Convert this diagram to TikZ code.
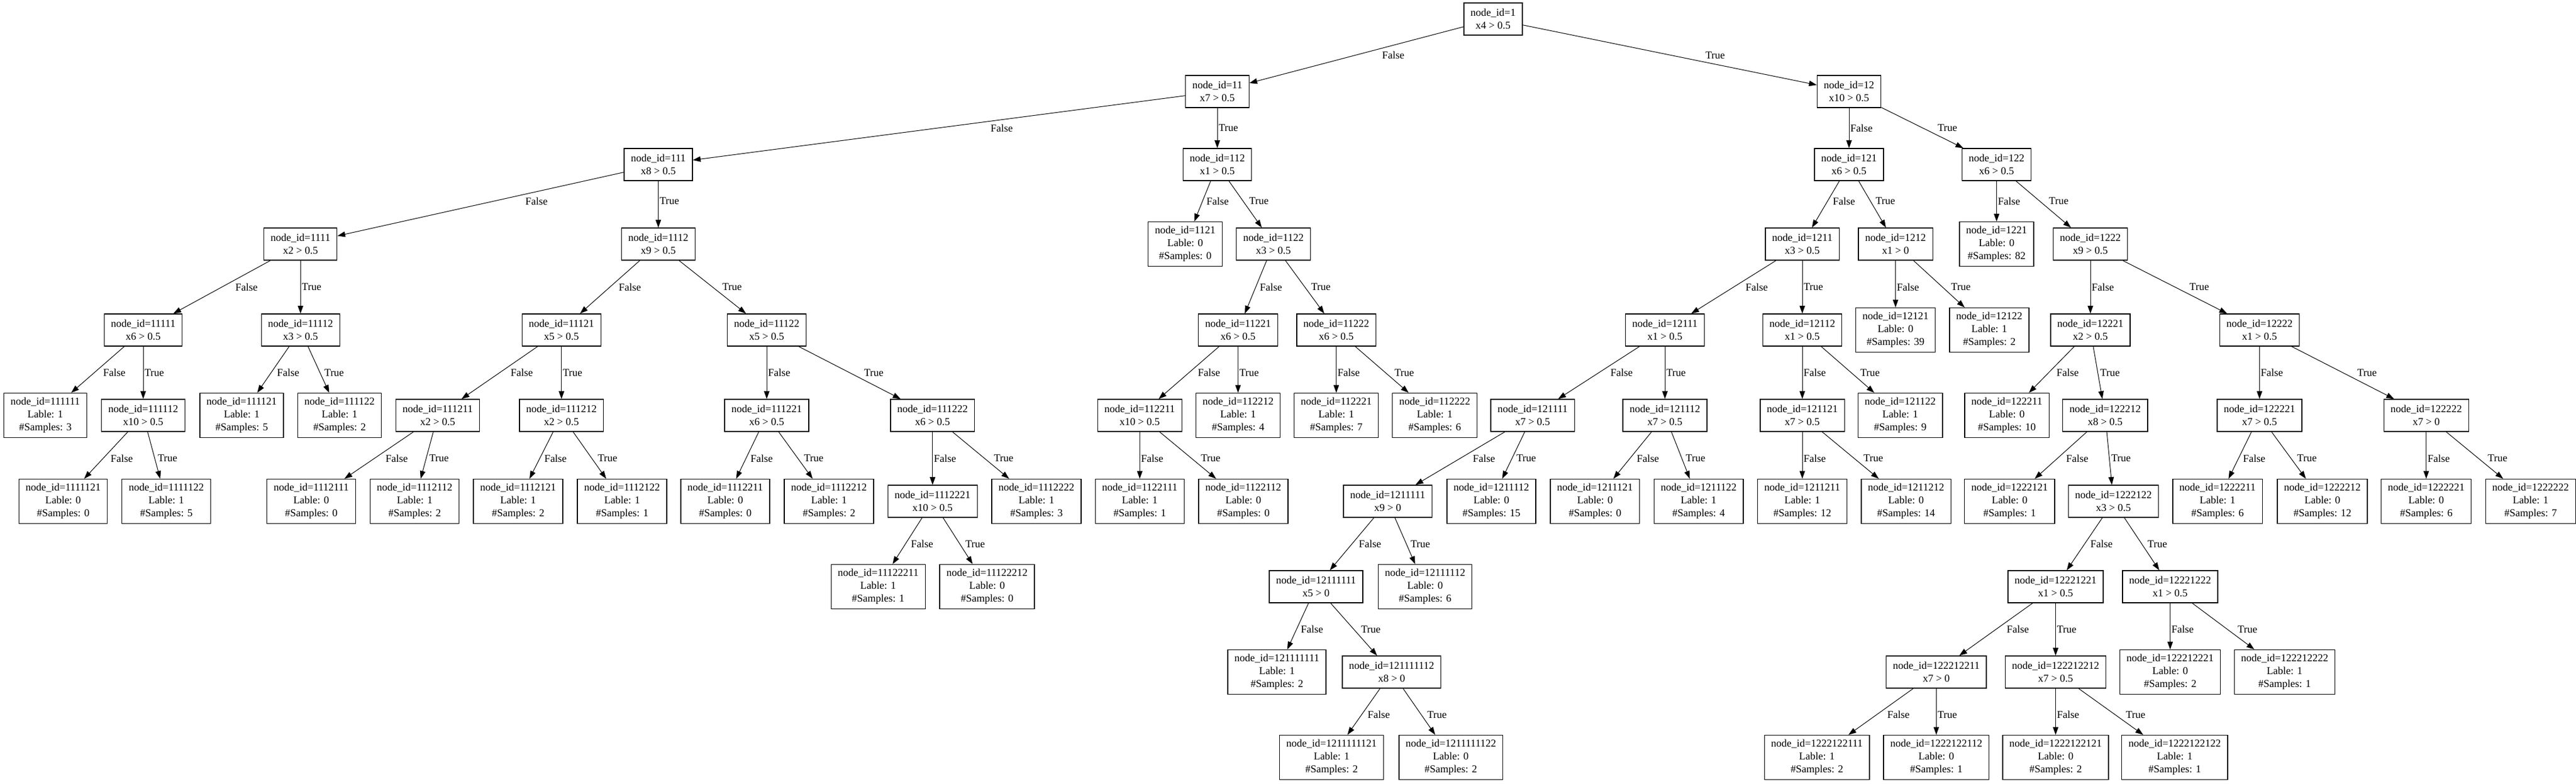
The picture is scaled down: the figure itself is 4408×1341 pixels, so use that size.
\documentclass[tikz,border=0pt]{standalone}
\usepackage{fontspec}
\setmainfont{Liberation Serif}
\usetikzlibrary{arrows.meta}
\tikzset{
  tn/.style={draw=black, line width=1pt, fill=white, align=center, inner xsep=8.6pt, inner ysep=0pt, font=\fontsize{13.5}{16.5}\selectfont},
  inode/.style={tn, minimum height=41.25pt},
  leaf/.style={tn, minimum height=57pt},
  edge/.style={draw=black, line width=0.75pt, -{Triangle[length=10pt,width=7pt]}},
  lbl/.style={font=\fontsize{13.5}{16.5}\selectfont, inner sep=0pt, anchor=west},
}
\newcommand\In[4]{\expandafter\def\csname X#1\endcsname{#2}\expandafter\def\csname Y#1\endcsname{#3}%
  \node[inode] (n#1) at (#2,#3) {node\_id=#1\\#4};}
\newcommand\Lf[5]{\expandafter\def\csname X#1\endcsname{#2}\expandafter\def\csname Y#1\endcsname{#3}%
  \node[leaf] (n#1) at (#2,#3) {node\_id=#1\\Lable: #4\\\#Samples: #5};}
\newcommand\E[4]{%
  \draw[edge] (n#1) -- (n#2);
  \pgfmathsetmacro\sl{(\csname X#2\endcsname-\csname X#1\endcsname)/(\csname Y#2\endcsname-\csname Y#1\endcsname)}%
  \pgfmathsetmacro\lx{\csname X#1\endcsname+(#4-\csname Y#1\endcsname)*\sl+2+11.5*abs(\sl)}%
  \node[lbl] (l#2) at (\lx,#4) {#3};}
\newcommand\EE[4]{\E{#1}{#2}{False}{#4}\E{#1}{#3}{True}{#4}}
\begin{document}
\begin{tikzpicture}[x=0.75pt,y=-0.75pt]
\useasboundingbox (0,0) rectangle (4408,1341);
% rank 0-2
\In{1}{2555}{32.5}{x4 > 0.5}
\In{11}{2083}{156.5}{x7 > 0.5}
\In{12}{3164}{156.5}{x10 > 0.5}
\In{111}{1126.5}{281.5}{x8 > 0.5}
\In{112}{2083}{281.5}{x1 > 0.5}
\In{121}{3164}{281.5}{x6 > 0.5}
\In{122}{3416.5}{281.5}{x6 > 0.5}
% rank 3
\In{1111}{514.2}{417.5}{x2 > 0.5}
\In{1112}{1126.5}{417.5}{x9 > 0.5}
\Lf{1121}{2028}{417.5}{0}{0}
\In{1122}{2179}{417.5}{x3 > 0.5}
\In{1211}{3084}{417.5}{x3 > 0.5}
\In{1212}{3243.6}{417.5}{x1 > 0}
\Lf{1221}{3416.5}{417.5}{0}{82}
\In{1222}{3577}{417.5}{x9 > 0.5}
% rank 4
\In{11111}{245}{564.5}{x6 > 0.5}
\In{11112}{514.2}{564.5}{x3 > 0.5}
\In{11121}{960.8}{564.5}{x5 > 0.5}
\In{11122}{1312}{564.5}{x5 > 0.5}
\In{11221}{2118.5}{564.5}{x6 > 0.5}
\In{11222}{2286.6}{564.5}{x6 > 0.5}
\In{12111}{2849}{564.5}{x1 > 0.5}
\In{12112}{3084}{564.5}{x1 > 0.5}
\Lf{12121}{3243.6}{564.5}{0}{39}
\Lf{12122}{3404}{564.5}{1}{2}
\In{12221}{3577}{564.5}{x2 > 0.5}
\In{12222}{3866.4}{564.5}{x1 > 0.5}
% rank 5
\Lf{111111}{77.5}{710.5}{1}{3}
\In{111112}{245}{710.5}{x10 > 0.5}
\Lf{111121}{413.5}{710.5}{1}{5}
\Lf{111122}{581}{710.5}{1}{2}
\In{111211}{749}{710.5}{x2 > 0.5}
\In{111212}{960.8}{710.5}{x2 > 0.5}
\In{111221}{1312}{710.5}{x6 > 0.5}
\In{111222}{1595.8}{710.5}{x6 > 0.5}
\In{112211}{1950.3}{710.5}{x10 > 0.5}
\Lf{112212}{2118.5}{710.5}{1}{4}
\Lf{112221}{2286.6}{710.5}{1}{7}
\Lf{112222}{2455}{710.5}{1}{6}
\In{121111}{2622.6}{710.5}{x7 > 0.5}
\In{121112}{2849}{710.5}{x7 > 0.5}
\In{121121}{3084}{710.5}{x7 > 0.5}
\Lf{121122}{3251.6}{710.5}{1}{9}
\Lf{122211}{3434}{710.5}{0}{10}
\In{122212}{3602.3}{710.5}{x8 > 0.5}
\In{122221}{3866.4}{710.5}{x7 > 0.5}
\In{122222}{4151.7}{710.5}{x7 > 0}
% rank 6
\Lf{1111121}{108}{857.5}{0}{0}
\Lf{1111122}{284.5}{857.5}{1}{5}
\Lf{1112111}{532.5}{857.5}{0}{0}
\Lf{1112112}{709.5}{857.5}{1}{2}
\Lf{1112121}{886.5}{857.5}{1}{2}
\Lf{1112122}{1064.5}{857.5}{1}{1}
\Lf{1112211}{1241}{857.5}{0}{0}
\Lf{1112212}{1418.5}{857.5}{1}{2}
\In{1112221}{1595.8}{857.5}{x10 > 0.5}
\Lf{1112222}{1773.5}{857.5}{1}{3}
\Lf{1122111}{1950.3}{857.5}{1}{1}
\Lf{1122112}{2127.5}{857.5}{0}{0}
\In{1211111}{2374.6}{857.5}{x9 > 0}
\Lf{1211112}{2552}{857.5}{0}{15}
\Lf{1211121}{2729.3}{857.5}{0}{0}
\Lf{1211122}{2906.7}{857.5}{1}{4}
\Lf{1211211}{3084}{857.5}{1}{12}
\Lf{1211212}{3261.5}{857.5}{0}{14}
\Lf{1222121}{3438.8}{857.5}{0}{1}
\In{1222122}{3616.5}{857.5}{x3 > 0.5}
\Lf{1222211}{3794.5}{857.5}{1}{6}
\Lf{1222212}{3974}{857.5}{0}{12}
\Lf{1222221}{4151.7}{857.5}{0}{6}
\Lf{1222222}{4330.2}{857.5}{1}{7}
% rank 7
\Lf{11122211}{1502.7}{1003.5}{1}{1}
\Lf{11122212}{1689}{1003.5}{0}{0}
\In{12111111}{2252}{1003.5}{x5 > 0}
\Lf{12111112}{2438.5}{1003.5}{0}{6}
\In{12221221}{3517.5}{1003.5}{x1 > 0.5}
\In{12221222}{3713.5}{1003.5}{x1 > 0.5}
% rank 8
\Lf{121111111}{2185}{1149.5}{1}{2}
\In{121111112}{2381.3}{1149.5}{x8 > 0}
\In{122212211}{3313.3}{1149.5}{x7 > 0}
\In{122212212}{3517.5}{1149.5}{x7 > 0.5}
\Lf{122212221}{3713.5}{1149.5}{0}{2}
\Lf{122212222}{3909.4}{1149.5}{1}{1}
% rank 9
\Lf{1211111121}{2278.5}{1295.5}{1}{2}
\Lf{1211111122}{2482.7}{1295.5}{0}{2}
\Lf{1222122111}{3109}{1295.5}{1}{2}
\Lf{1222122112}{3313.3}{1295.5}{0}{1}
\Lf{1222122121}{3517.5}{1295.5}{0}{2}
\Lf{1222122122}{3721.3}{1295.5}{1}{1}
% edges
\EE{1}{11}{12}{94.5}
\EE{11}{111}{112}{219}
\EE{12}{121}{122}{219}
\EE{111}{1111}{1112}{344}
\EE{112}{1121}{1122}{344}
\EE{121}{1211}{1212}{344}
\EE{122}{1221}{1222}{344}
\EE{1111}{11111}{11112}{491}
\EE{1112}{11121}{11122}{491}
\EE{1122}{11221}{11222}{491}
\EE{1211}{12111}{12112}{491}
\EE{1212}{12121}{12122}{491}
\EE{1222}{12221}{12222}{491}
\EE{11111}{111111}{111112}{637.5}
\EE{11112}{111121}{111122}{637.5}
\EE{11121}{111211}{111212}{637.5}
\EE{11122}{111221}{111222}{637.5}
\EE{11221}{112211}{112212}{637.5}
\EE{11222}{112221}{112222}{637.5}
\EE{12111}{121111}{121112}{637.5}
\EE{12112}{121121}{121122}{637.5}
\EE{12221}{122211}{122212}{637.5}
\EE{12222}{122221}{122222}{637.5}
\EE{111112}{1111121}{1111122}{784}
\EE{111211}{1112111}{1112112}{784}
\EE{111212}{1112121}{1112122}{784}
\EE{111221}{1112211}{1112212}{784}
\EE{111222}{1112221}{1112222}{784}
\EE{112211}{1122111}{1122112}{784}
\EE{121111}{1211111}{1211112}{784}
\EE{121112}{1211121}{1211122}{784}
\EE{121121}{1211211}{1211212}{784}
\EE{122212}{1222121}{1222122}{784}
\EE{122221}{1222211}{1222212}{784}
\EE{122222}{1222221}{1222222}{784}
\EE{1112221}{11122211}{11122212}{930.5}
\EE{1211111}{12111111}{12111112}{930.5}
\EE{1222122}{12221221}{12221222}{930.5}
\EE{12111111}{121111111}{121111112}{1076.5}
\EE{12221221}{122212211}{122212212}{1076.5}
\EE{12221222}{122212221}{122212222}{1076.5}
\EE{121111112}{1211111121}{1211111122}{1222.5}
\EE{122212211}{1222122111}{1222122112}{1222.5}
\EE{122212212}{1222122121}{1222122122}{1222.5}
\end{tikzpicture}
\end{document}
